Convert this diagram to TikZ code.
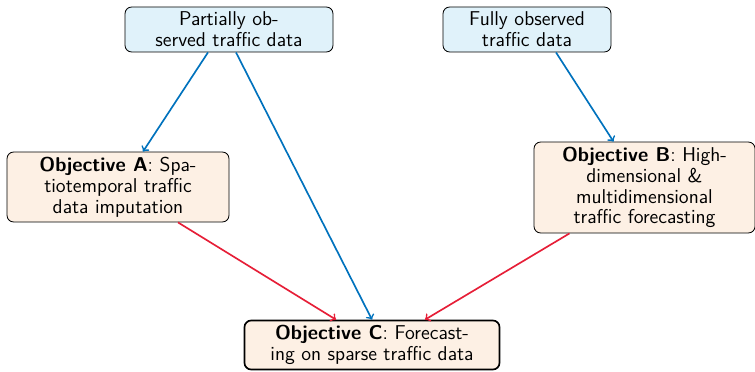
\documentclass[tikz,border=0pt]{standalone}
\usepackage{amsmath}
\usetikzlibrary{positioning}

\definecolor{datafill}{RGB}{224,242,250}
\definecolor{objfill}{RGB}{253,240,228}
\definecolor{lineblue}{RGB}{0,114,189}
\definecolor{linered}{RGB}{230,30,55}

\begin{document}
\begin{tikzpicture}[x=0.6pt, y=-0.6pt,
    box/.style={draw, rounded corners=4pt, align=center, inner sep=2pt,
        font=\sffamily\fontsize{12}{12.5}\selectfont, line width=0.5pt},
    databox/.style={box, fill=datafill},
    objbox/.style={box, fill=objfill},
    bluearrow/.style={->, draw=lineblue, line width=1pt},
    redarrow/.style={->, draw=linered, line width=1pt}]
\useasboundingbox (0,0) rectangle (755,371);

\def\xp{229}
\def\xf{527}
\def\xa{118}
\def\xb{644.5}
\def\xc{372}

\node[databox, minimum width=124.8pt, minimum height=27pt] (partial) at (\xp, 29.5)
    {Partially ob-\\served traffic data};
\node[databox, minimum width=100.8pt, minimum height=27pt] (full) at (\xf, 29.5)
    {Fully observed\\traffic data};
\node[objbox, minimum width=133.2pt, minimum height=42pt] (objA) at (\xa, 187)
    {\textbf{Objective A}: Spa-\\tiotemporal traffic\\data imputation};
\node[objbox, minimum width=132.6pt, minimum height=54.6pt] (objB) at (\xb, 187.5)
    {\textbf{Objective B}: High-\\dimensional \&\\multidimensional\\traffic forecasting};
\node[objbox, line width=1pt, minimum width=153pt, minimum height=29.4pt] (objC) at (\xc, 345)
    {\textbf{Objective C}: Forecast-\\ing on sparse traffic data};

% data to objectives
\draw[bluearrow] ([xshift=-12.6pt]partial.south) -- ([xshift=15pt]objA.north);
\draw[bluearrow] ([xshift=4.2pt]partial.south) -- (objC.north);
\draw[bluearrow] ([xshift=17.4pt]full.south) -- ([xshift=-18.6pt]objB.north);

% objectives to C
\draw[redarrow] ([xshift=36pt]objA.south) -- ([xshift=-21.6pt]objC.north);
\draw[redarrow] ([xshift=-45pt]objB.south) -- ([xshift=31.8pt]objC.north);

\end{tikzpicture}
\end{document}
